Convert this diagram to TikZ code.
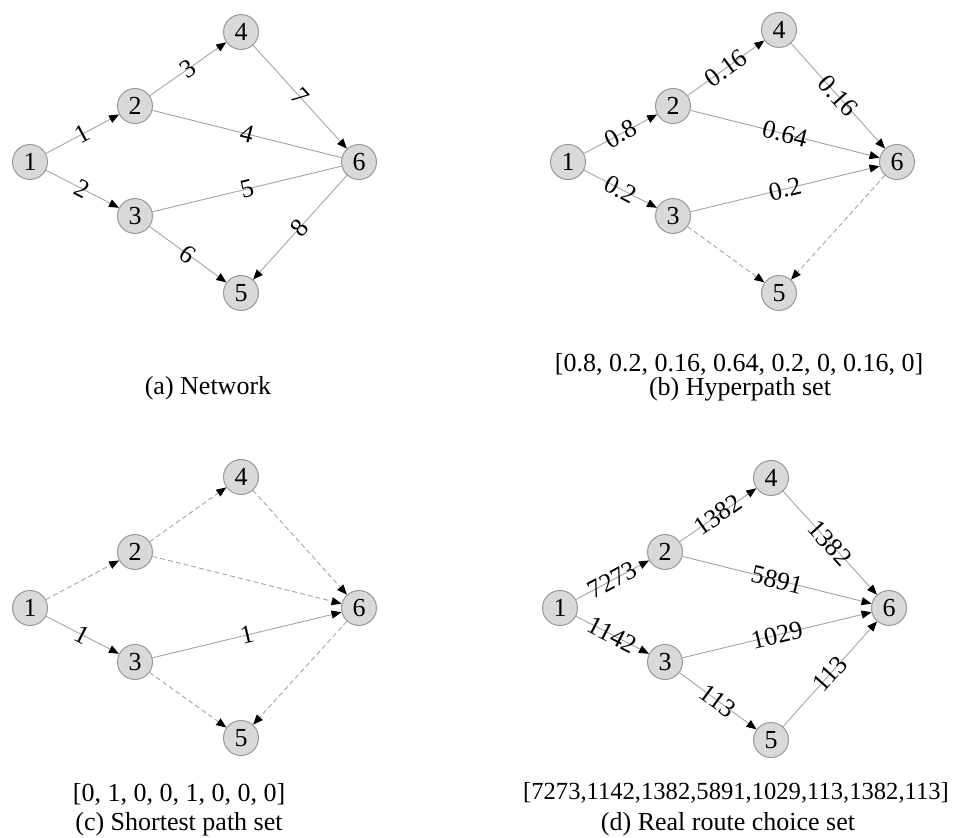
\documentclass[tikz,border=0pt]{standalone}
\usepackage{fontspec}
\setmainfont{Liberation Serif}
\usetikzlibrary{arrows.meta}

\begin{document}
\begin{tikzpicture}[
  x=0.5pt, y=-0.5pt,
  graph_node/.style={circle, draw=gray!80, fill=gray!30, line width=0.5pt, minimum size=17.5pt, inner sep=0pt, font=\fontsize{13}{15}\selectfont},
  link_plain/.style={draw=gray!70, line width=0.45pt},
  link/.style={link_plain, -{Triangle[length=5pt, width=4pt, color=black]}},
  link_off/.style={link, dash pattern=on 2.5pt off 1.5pt},
  flow_label/.style={midway, sloped, inner sep=0pt, font=\fontsize{13}{15}\selectfont},
  cap_text/.style={inner sep=0pt, font=\fontsize{13}{15}\selectfont},
]
\useasboundingbox (0,0) rectangle (956,838);

% (a) network
\begin{scope}[shift={(30,162)}]
\foreach \n/\px/\py in {1/0/0, 2/105/-56, 3/105/54, 4/211/-130, 5/211/131, 6/329/0}
  \node[graph_node] (a\n) at (\px,\py) {\n};
\end{scope}
\draw[link] (a1) -- node[flow_label] {1} (a2);
\draw[link] (a1) -- node[flow_label] {2} (a3);
\draw[link] (a2) -- node[flow_label] {3} (a4);
\draw[link_plain] (a2) -- node[flow_label] {4} (a6);
\draw[link_plain] (a3) -- node[flow_label] {5} (a6);
\draw[link] (a3) -- node[flow_label] {6} (a5);
\draw[link] (a4) -- node[flow_label] {7} (a6);
\draw[link] (a6) -- node[flow_label] {8} (a5);
\node[cap_text] (capA) at (208,388) {(a) Network};

% (b) hyperpath set
\begin{scope}[shift={(568,162)}]
\foreach \n/\px/\py in {1/0/0, 2/105/-56, 3/105/54, 4/211/-132, 5/211/131, 6/329/0}
  \node[graph_node] (b\n) at (\px,\py) {\n};
\end{scope}
\draw[link] (b1) -- node[flow_label] {0.8} (b2);
\draw[link] (b1) -- node[flow_label] {0.2} (b3);
\draw[link] (b2) -- node[flow_label] {0.16} (b4);
\draw[link] (b2) -- node[flow_label] {0.64} (b6);
\draw[link] (b3) -- node[flow_label] {0.2} (b6);
\draw[link_off] (b3) -- (b5);
\draw[link] (b4) -- node[flow_label] {0.16} (b6);
\draw[link_off] (b6) -- (b5);
\node[cap_text] (setB) at (739,364) {[0.8, 0.2, 0.16, 0.64, 0.2, 0, 0.16, 0]};
\node[cap_text] (capB) at (740,389) {(b) Hyperpath set};

% (c) shortest path set
\begin{scope}[shift={(30,608)}]
\foreach \n/\px/\py in {1/0/0, 2/105/-56, 3/105/54, 4/211/-131, 5/211/130, 6/329/0}
  \node[graph_node] (c\n) at (\px,\py) {\n};
\end{scope}
\draw[link_off] (c1) -- (c2);
\draw[link] (c1) -- node[flow_label] {1} (c3);
\draw[link_off] (c2) -- (c4);
\draw[link_off] (c2) -- (c6);
\draw[link] (c3) -- node[flow_label] {1} (c6);
\draw[link_off] (c3) -- (c5);
\draw[link_off] (c4) -- (c6);
\draw[link_off] (c6) -- (c5);
\node[cap_text] (setC) at (179,794) {[0, 1, 0, 0, 1, 0, 0, 0]};
\node[cap_text] (capC) at (179,824) {(c) Shortest path set};

% (d) real route choice set
\begin{scope}[shift={(560,608)}]
\foreach \n/\px/\py in {1/0/0, 2/105/-56, 3/105/54, 4/211/-130, 5/211/132, 6/329/0}
  \node[graph_node] (d\n) at (\px,\py) {\n};
\end{scope}
\draw[link] (d1) -- node[flow_label] {7273} (d2);
\draw[link] (d1) -- node[flow_label] {1142} (d3);
\draw[link] (d2) -- node[flow_label] {1382} (d4);
\draw[link] (d2) -- node[flow_label] {5891} (d6);
\draw[link] (d3) -- node[flow_label] {1029} (d6);
\draw[link] (d3) -- node[flow_label] {113} (d5);
\draw[link] (d4) -- node[flow_label] {1382} (d6);
\draw[link] (d5) -- node[flow_label] {113} (d6);
\node[cap_text, font=\fontsize{12.3}{15}\selectfont] (setD) at (736,793) {[7273,1142,1382,5891,1029,113,1382,113]};
\node[cap_text] (capD) at (728,824) {(d) Real route choice set};
\end{tikzpicture}
\end{document}
